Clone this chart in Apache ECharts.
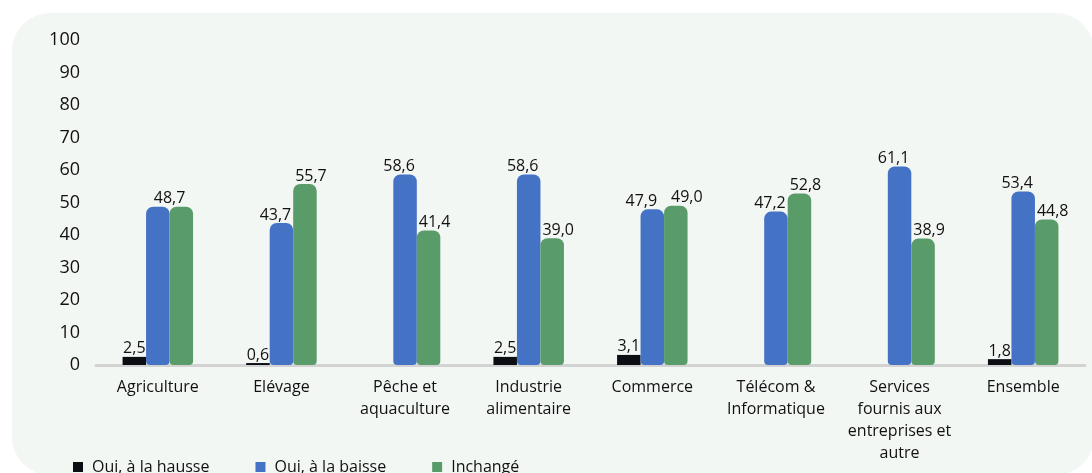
<!DOCTYPE html>
<html>
<head>
<meta charset="utf-8">
<script src="https://cdn.jsdelivr.net/npm/echarts@6/dist/echarts.min.js"></script>
<style>
  html, body { margin: 0; padding: 0; background: #ffffff; }
  #chart { width: 1092px; height: 473px; }
</style>
</head>
<body>
<div id="chart"></div>
<script>
// Sector categories (line breaks as printed under the axis)
const categories = [
  'Agriculture',
  'Elévage',
  'Pêche et\naquaculture',
  'Industrie\nalimentaire',
  'Commerce',
  'Télécom &\nInformatique',
  'Services\nfournis aux\nentreprises et\nautre',
  'Ensemble'
];

// Shares in percent; null where no answer was recorded
const hausse = [2.5, 0.6, null, 2.5, 3.1, null, null, 1.8];
const baisse = [48.7, 43.7, 58.6, 58.6, 47.9, 47.2, 61.1, 53.4];
const inchange = [48.7, 55.7, 41.4, 39.0, 49.0, 52.8, 38.9, 44.8];

const seriesNames = ['Oui, à la hausse', 'Oui, à la baisse', 'Inchangé'];
const yTicks = { min: 0, max: 100, interval: 10 };

const FONT = '"Open Sans", sans-serif';
const TEXT = '#111111';

const fmt = p => (p.value == null ? '' : p.value.toFixed(1).replace('.', ','));

// When the two neighbouring bars carry the same value, one shared label is printed
const sameValue = i => baisse[i] === inchange[i];
const inchangeData = inchange.map((v, i) =>
  sameValue(i) ? { value: v, label: { show: false } } : v
);

// Pull the labels of the adjacent blue / green bars slightly apart
function spreadLabels(side) {
  return function (params) {
    const i = params.dataIndex;
    if (side < 0 && sameValue(i)) {
      return { dx: params.rect.width / 2 };
    }
    let dx = side * 6;
    // a tighter pair of values needs a wider spread
    if (Math.abs(baisse[i] - inchange[i]) < 2) dx = side * 11;
    return { dx: dx };
  };
}

function barSeries(name, data, color, radius, layout) {
  const s = {
    name: name,
    type: 'bar',
    data: data,
    barWidth: 23.5,
    barGap: '0%',
    itemStyle: { color: color, borderRadius: radius },
    label: {
      show: true,
      position: 'top',
      distance: 0,
      formatter: fmt,
      fontFamily: FONT,
      fontSize: 16,
      color: TEXT
    }
  };
  if (layout) s.labelLayout = layout;
  return s;
}

const chart = echarts.init(document.getElementById('chart'), null, { renderer: 'canvas' });

chart.setOption({
  animation: false,
  backgroundColor: '#ffffff',
  graphic: [{
    type: 'rect',
    z: -10,
    silent: true,
    shape: { x: 12, y: 13, width: 1082, height: 462, r: 38 },
    style: { fill: '#f3f7f4' }
  }],
  grid: { left: 96, right: 7, top: 40, bottom: 108, containLabel: false },
  legend: {
    data: seriesNames,
    left: 68,
    top: 454,
    icon: 'rect',
    itemWidth: 10,
    itemHeight: 10,
    itemGap: 46,
    textStyle: { fontFamily: FONT, fontSize: 16, color: TEXT, padding: [0, 0, 0, 4] }
  },
  xAxis: {
    type: 'category',
    data: categories,
    axisLine: { show: true, lineStyle: { color: '#d3d3d3', width: 3 } },
    axisTick: { show: false },
    axisLabel: {
      interval: 0,
      margin: 11,
      fontFamily: FONT,
      fontSize: 16,
      lineHeight: 22,
      color: TEXT,
      align: 'center'
    }
  },
  yAxis: {
    type: 'value',
    min: yTicks.min,
    max: yTicks.max,
    interval: yTicks.interval,
    axisLine: { show: false },
    axisTick: { show: false },
    splitLine: { show: false },
    axisLabel: { margin: 16, fontFamily: FONT, fontSize: 18, color: TEXT }
  },
  series: [
    barSeries(seriesNames[0], hausse, '#0b0f14', 0),
    barSeries(seriesNames[1], baisse, '#4472c4', [7, 7, 4, 4], spreadLabels(-1)),
    barSeries(seriesNames[2], inchangeData, '#5a9b6a', [7, 7, 4, 4], spreadLabels(1))
  ]
});
</script>
</body>
</html>
